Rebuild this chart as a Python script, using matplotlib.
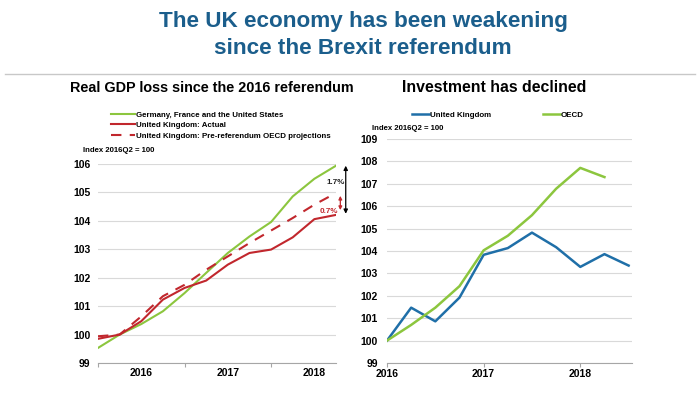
import matplotlib
matplotlib.use("Agg")
import matplotlib.pyplot as plt
from matplotlib.lines import Line2D

# quarterly positions, 2016Q1 = 0
GDP_Q = list(range(12))
GDP_OTHERS = [99.53, 100.0, 100.37, 100.82, 101.46, 102.17, 102.87, 103.45, 103.96, 104.86, 105.48, 105.94]
GDP_UK = [99.85, 100.0, 100.47, 101.23, 101.64, 101.90, 102.46, 102.87, 102.99, 103.42, 104.06, 104.21]
GDP_UK_PROJ = [99.94, 100.0, 100.64, 101.35, 101.75, 102.28, 102.75, 103.22, 103.66, 104.10, 104.57, 104.98]
GDP_YEARS = ["2016", "2017", "2018"]

INV_Q_UK = list(range(11))
INV_UK = [100.0, 101.47, 100.86, 101.92, 103.83, 104.13, 104.82, 104.17, 103.29, 103.86, 103.35]
INV_Q_OECD = list(range(10))
INV_OECD = [100.0, 100.70, 101.47, 102.43, 104.03, 104.68, 105.60, 106.78, 107.71, 107.30]
INV_YEARS = ["2016", "2017", "2018"]

GREEN = "#8cc63e"
RED = "#c1272d"
BLUE = "#1f6fa8"
TITLE_BLUE = "#1b5e8c"
GRID = "#d9d9d9"

plt.rcParams["font.family"] = ["Liberation Sans", "DejaVu Sans"]

fig = plt.figure(figsize=(7.0, 3.93), dpi=100)

fig.text(363 / 700, 1 - 22 / 393, "The UK economy has been weakening", ha="center", va="center",
         fontsize=16.2, fontweight="bold", color=TITLE_BLUE)
fig.text(363 / 700, 1 - 49 / 393, "since the Brexit referendum", ha="center", va="center",
         fontsize=16.2, fontweight="bold", color=TITLE_BLUE)
fig.add_artist(Line2D([5 / 700, 695 / 700], [1 - 74 / 393] * 2, color="#c8c8c8", lw=1))


def style(ax, ylo, yhi, pad):
    ax.set_ylim(ylo, yhi)
    ax.set_yticks(range(ylo, yhi + 1))
    ax.grid(axis="y", color=GRID, lw=0.8)
    ax.set_axisbelow(True)
    for s in ["top", "right", "left"]:
        ax.spines[s].set_visible(False)
    ax.spines["bottom"].set_color("#a6a6a6")
    ax.tick_params(axis="y", length=0, pad=pad)
    for lab in ax.get_yticklabels():
        lab.set_fontweight("bold"); lab.set_fontsize(7.5)


# ---- left: real GDP
ax1 = fig.add_axes([98 / 700, 1 - 363 / 393, 238 / 700, 199 / 393])
ax1.plot(GDP_Q, GDP_OTHERS, color=GREEN, lw=1.5, label="Germany, France and the United States")
ax1.plot(GDP_Q, GDP_UK, color=RED, lw=1.5, label="United Kingdom: Actual")
ax1.plot(GDP_Q, GDP_UK_PROJ, color=RED, lw=1.5, ls=(0, (5, 4)),
         label="United Kingdom: Pre-referendum OECD projections")
ax1.set_xlim(0, 11)
style(ax1, 99, 106, 5.5)
ax1.set_xticks([0, 4, 8])
ax1.set_xticklabels([])
ax1.set_xticks([2, 6, 10], minor=True)
ax1.set_xticklabels(GDP_YEARS, minor=True)
ax1.tick_params(axis="x", which="major", length=3, color="#a6a6a6")
ax1.tick_params(axis="x", which="minor", length=0, pad=3.8)
for lab in ax1.get_xticklabels(minor=True):
    lab.set_fontweight("bold"); lab.set_fontsize(7.5)

# gap arrows at the end of the projection window
ax1.annotate("", xy=(11.45, GDP_OTHERS[-1]), xytext=(11.45, GDP_UK[-1] + 0.04),
             arrowprops=dict(arrowstyle="<|-|>", color="black", lw=0.9, mutation_scale=6,
                             shrinkA=0, shrinkB=0),
             annotation_clip=False)
ax1.annotate("", xy=(11.2, GDP_UK_PROJ[-1] - 0.1), xytext=(11.2, GDP_UK[-1] + 0.17),
             arrowprops=dict(arrowstyle="<|-|>", color=RED, lw=0.9, mutation_scale=5,
                             shrinkA=0, shrinkB=0),
             annotation_clip=False)
ax1.text(11.39, 105.35, "1.7%", ha="right", va="center", fontsize=5.8, color="#222222",
         fontweight="bold")
ax1.text(11.12, 104.33, "0.7%", ha="right", va="center", fontsize=5.8, color=RED,
         fontweight="bold")

fig.text(212 / 700, 1 - 88 / 393, "Real GDP loss since the 2016 referendum", ha="center",
         va="center", fontsize=10.4, fontweight="bold")
ax1.legend(loc="upper left", bbox_to_anchor=(111 / 700, 1 - 111 / 393),
           bbox_transform=fig.transFigure, frameon=False, handlelength=3.0,
           handletextpad=0.2, labelspacing=0.4, borderaxespad=0, borderpad=0,
           prop=dict(weight="bold", size=5.7))
fig.text(83 / 700, 1 - 150 / 393, "Index 2016Q2 = 100", ha="left", va="center",
         fontsize=5.6, fontweight="bold")

# ---- right: investment
ax2 = fig.add_axes([387 / 700, 1 - 363 / 393, 245 / 700, 224 / 393])
ax2.plot(INV_Q_UK, INV_UK, color=BLUE, lw=1.8, label="United Kingdom")
ax2.plot(INV_Q_OECD, INV_OECD, color=GREEN, lw=1.8, label="OECD")
ax2.set_xlim(0, 10.14)
style(ax2, 99, 109, 6.5)
ax2.set_xticks([0, 4, 8])
ax2.set_xticklabels(INV_YEARS)
ax2.tick_params(axis="x", length=3, color="#a6a6a6", pad=1)
for lab in ax2.get_xticklabels():
    lab.set_fontweight("bold"); lab.set_fontsize(7.5)

fig.text(494 / 700, 1 - 88 / 393, "Investment has declined", ha="center", va="center",
         fontsize=11.4, fontweight="bold")
ax2.legend(loc="center left", bbox_to_anchor=(412 / 700, 1 - 115 / 393),
           bbox_transform=fig.transFigure, frameon=False, ncol=2, columnspacing=6.6,
           handlelength=2.1, handletextpad=0.15, borderaxespad=0, borderpad=0,
           prop=dict(weight="bold", size=5.7))
fig.text(372 / 700, 1 - 129 / 393, "Index 2016Q2 = 100", ha="left", va="center",
         fontsize=5.6, fontweight="bold")

fig.savefig("out.png", dpi=100)
